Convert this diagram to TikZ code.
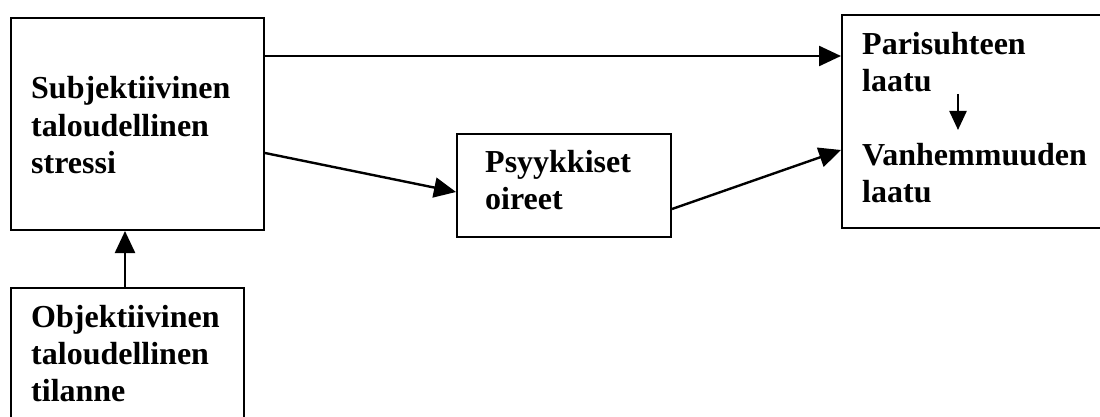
\documentclass[tikz,border=0pt]{standalone}
\usepackage{fontspec}
\setmainfont{Liberation Serif}
\usetikzlibrary{arrows.meta,calc}
\begin{document}
\begin{tikzpicture}[x=1pt,y=-1pt,
  box/.style={draw, line width=2pt, rectangle, inner sep=0pt, anchor=north west},
  lbl/.style={anchor=base west, align=left, inner sep=0pt, font=\fontsize{32}{37}\selectfont\bfseries},
  arr/.style={line width=2.4pt, -{Triangle[length=22pt,width=20pt]}},
  sarr/.style={line width=2.4pt, -{Triangle[length=19pt,width=17pt]}}]
\useasboundingbox (0,0) rectangle (1100,417);
\clip (0,0) rectangle (1100,417);
\fill[white] (0,0) rectangle (1100,417);
\node[box, minimum width=253pt, minimum height=212pt] (subj) at (10,17) {};
\node[box, minimum width=233pt, minimum height=200pt] (obj) at (10,287) {};
\node[box, minimum width=214pt, minimum height=103pt] (psy) at (456,133) {};
\node[box, minimum width=300pt, minimum height=213pt] (right) at (841,14) {};
\node[lbl] (subjt) at (31,173) {Subjektiivinen\\taloudellinen\\stressi};
\node[lbl] (objt) at (31,401) {Objektiivinen\\taloudellinen\\tilanne};
\node[lbl] (psyt) at (485,209) {Psyykkiset\\oireet};
\node[lbl] (part) at (862,92) {Parisuhteen\\laatu};
\node[lbl] (vant) at (862,202) {Vanhemmuuden\\laatu};
\draw[arr] ($(obj.north west)+(115,0)$) -- ($(subj.south west)+(115,0)$);
\draw[arr] ($(subj.north east)+(0,39)$) -- ($(right.north west)+(0,42)$);
\draw[arr] ($(subj.north east)+(0,136)$) -- ($(psy.north west)+(0,59)$);
\draw[arr] ($(psy.north east)+(0,76)$) -- ($(right.north west)+(0,136)$);
\draw[sarr] ($(right.north west)+(117,80)$) -- ($(right.north west)+(117,116)$);
\end{tikzpicture}
\end{document}
